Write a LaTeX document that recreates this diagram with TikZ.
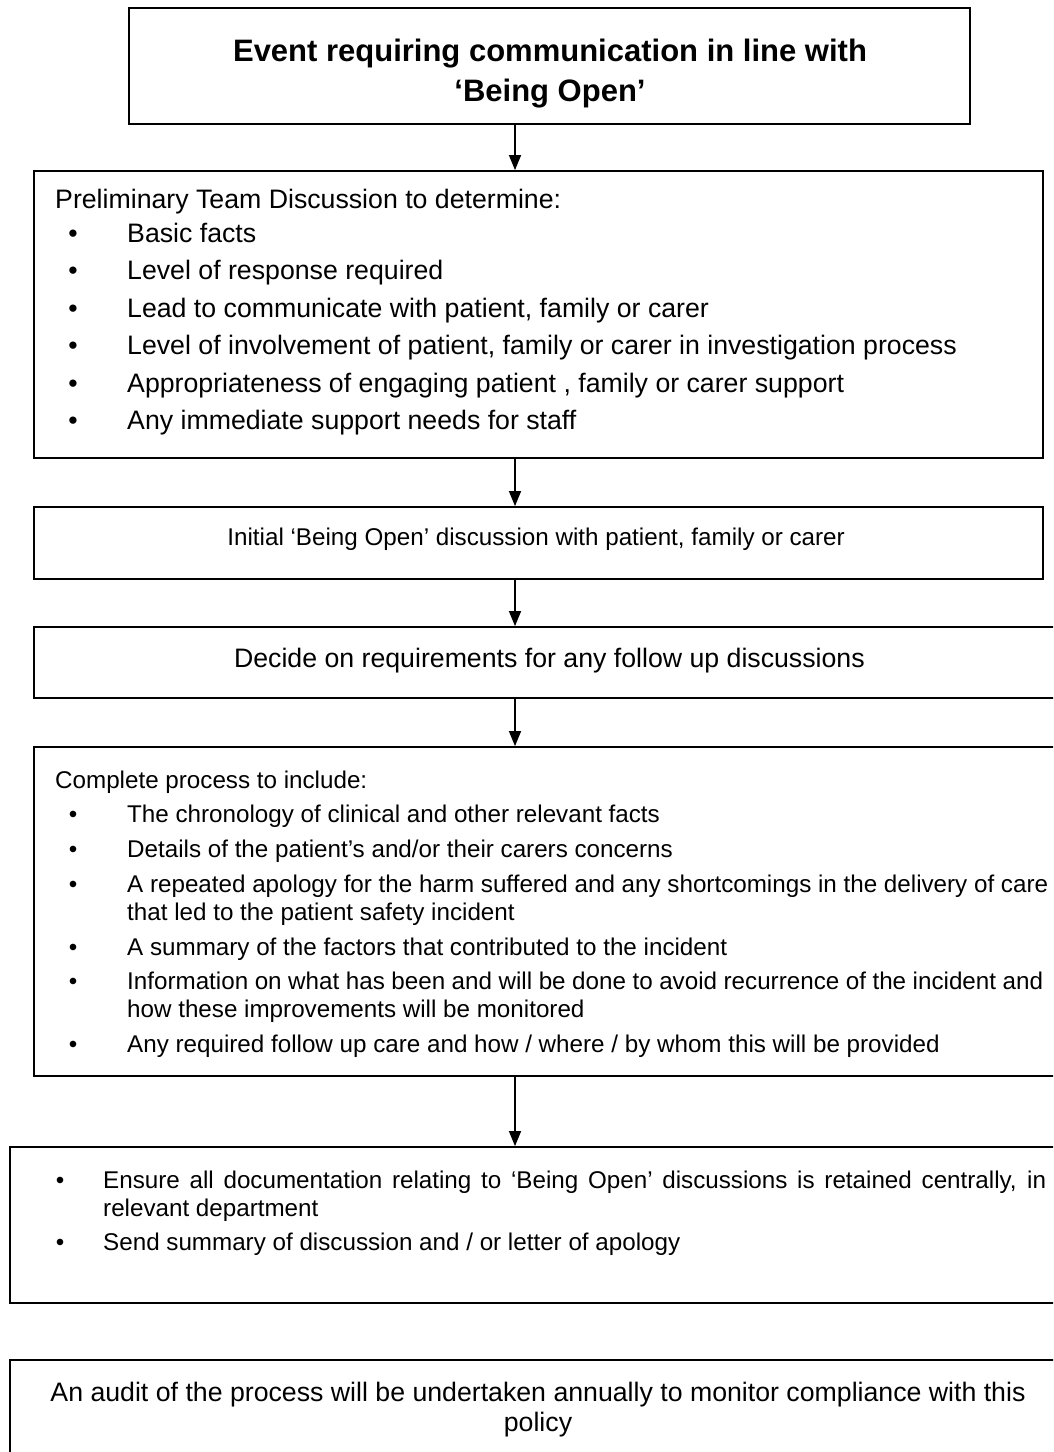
\documentclass[tikz,border=0pt]{standalone}
\usepackage{fontspec}
\setmainfont{Liberation Sans}
\usetikzlibrary{arrows.meta}
\begin{document}
\begin{tikzpicture}[x=1pt,y=-1pt,
  box/.style={draw, line width=1.8pt, inner sep=0pt},
  arr/.style={line width=1.3pt, -{Triangle[width=12pt,length=15pt]}},
  tl/.style={anchor=base west, inner sep=0pt},
  tc/.style={anchor=base, inner sep=0pt},
  fA/.style={font=\fontsize{26.7}{30}\selectfont},
  fB/.style={font=\fontsize{24.2}{28}\selectfont},
  fT/.style={font=\bfseries\fontsize{31}{36}\selectfont}]
\path[use as bounding box] (0,0) rectangle (1053,1452);
\clip (0,0) rectangle (1053,1452);
\fill[white] (0,0) rectangle (1053,1452);
\coordinate (ax) at (515,0);
% boxes
\node[box, minimum width=841pt, minimum height=116pt] (b1) at (549.5,66) {};
\node[box, minimum width=1009pt, minimum height=287pt] (b2) at (538.5,314.5) {};
\node[box, minimum width=1009pt, minimum height=72pt] (b3) at (538.5,543) {};
\node[box, minimum width=1046pt, minimum height=71pt] (b4) at (557,662.5) {};
\node[box, minimum width=1046pt, minimum height=329pt] (b5) at (557,911.5) {};
\node[box, minimum width=1070pt, minimum height=156pt] (b6) at (545,1225) {};
\node[box, minimum width=1070pt, minimum height=120pt] (b7) at (545,1420) {};
% arrows
\draw[arr] (b1.south -| ax) -- (b2.north -| ax);
\draw[arr] (b2.south -| ax) -- (b3.north -| ax);
\draw[arr] (b3.south -| ax) -- (b4.north -| ax);
\draw[arr] (b4.south -| ax) -- (b5.north -| ax);
\draw[arr] (b5.south -| ax) -- (b6.north -| ax);
% box 1
\node[tc, fT] (t1a) at (550,61) {Event requiring communication in line with};
\node[tc, fT] (t1b) at (550,101) {‘Being Open’};
% box 2
\node[tl, fA] (t2h) at (55,208) {Preliminary Team Discussion to determine:};
\foreach \y/\t [count=\i] in {242/Basic facts, 279/Level of response required, 317/{Lead to communicate with patient, family or carer}, 354/Level of involvement of patient{,} family or carer in investigation process, 392/{Appropriateness of engaging patient , family or carer support}, 429/Any immediate support needs for staff}{
  \node[tc, fA] (b2d\i) at (73,\y) {\textbullet};
  \node[tl, fA] (b2t\i) at (127,\y) {\t};
}
% box 3
\node[anchor=base east, inner sep=0pt, fB] (t3) at (845,545) {Initial ‘Being Open’ discussion with patient, family or carer};
% box 4
\node[anchor=base east, inner sep=0pt, fA] (t4) at (865,667) {Decide on requirements for any follow up discussions};
% box 5
\node[tl, fB] (t5h) at (55,788) {Complete process to include:};
\foreach \y [count=\i] in {822,857,892,955,989,1052}{
  \node[tc, fB] (b5d\i) at (73,\y) {\textbullet};
}
\node[tl, fB] (b5t1) at (127,822) {The chronology of clinical and other relevant facts};
\node[tl, fB] (b5t2) at (127,857) {Details of the patient’s and/or their carers concerns};
\node[tl, fB] (b5t3) at (127,892) {\makebox[921pt][s]{A repeated apology for the harm suffered and any shortcomings in the delivery of care}};
\node[tl, fB] (b5t3b) at (127,920) {that led to the patient safety incident};
\node[tl, fB] (b5t4) at (127,955) {A summary of the factors that contributed to the incident};
\node[tl, fB] (b5t5) at (127,989) {\makebox[916pt][s]{Information on what has been and will be done to avoid recurrence of the incident and}};
\node[tl, fB] (b5t5b) at (127,1017) {how these improvements will be monitored};
\node[tl, fB] (b5t6) at (127,1052) {Any required follow up care and how / where / by whom this will be provided};
% box 6
\node[tc, fB] (b6d1) at (60,1188) {\textbullet};
\node[tc, fB] (b6d2) at (60,1250) {\textbullet};
\node[tl, fB] (b6t1) at (103,1188) {\makebox[943pt][s]{Ensure all documentation relating to ‘Being Open’ discussions is retained centrally, in}};
\node[tl, fB] (b6t1b) at (103,1216) {relevant department};
\node[tl, fB] (b6t2) at (103,1250) {Send summary of discussion and / or letter of apology};
% box 7
\node[tc, fA] (t7a) at (538,1401) {An audit of the process will be undertaken annually to monitor compliance with this};
\node[tc, fA] (t7b) at (538,1431) {policy};
\end{tikzpicture}
\end{document}
